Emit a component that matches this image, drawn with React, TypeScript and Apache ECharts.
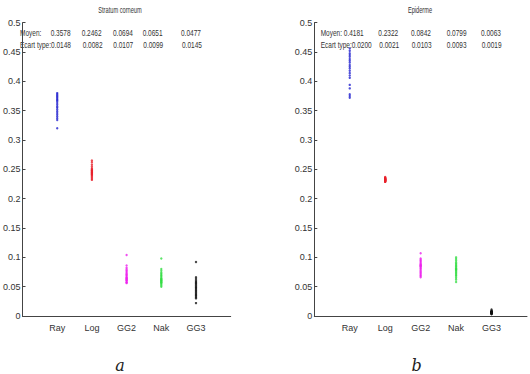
import React, { useEffect, useRef } from "react";
import * as echarts from "echarts";

// Distribution names along the x axis (positions 1..5)
const categories = ["Ray", "Log", "GG2", "Nak", "GG3"];
const yTicks = { min: 0, max: 0.5, interval: 0.05 };

// Panel a: Stratum corneum — estimated parameter per image
const scRay = [0.38, 0.378, 0.376, 0.374, 0.372, 0.37, 0.368, 0.366, 0.363, 0.36, 0.357, 0.355, 0.352, 0.349, 0.346, 0.343, 0.34, 0.337, 0.334, 0.32];
const scLog = [0.265, 0.262, 0.258, 0.255, 0.252, 0.25, 0.249, 0.248, 0.247, 0.246, 0.245, 0.244, 0.243, 0.242, 0.241, 0.24, 0.238, 0.236, 0.234, 0.232];
const scGG2 = [0.104, 0.086, 0.082, 0.079, 0.077, 0.075, 0.073, 0.071, 0.07, 0.068, 0.066, 0.065, 0.064, 0.063, 0.062, 0.061, 0.06, 0.058, 0.057, 0.056];
const scNak = [0.098, 0.08, 0.077, 0.074, 0.072, 0.07, 0.068, 0.066, 0.064, 0.063, 0.062, 0.061, 0.06, 0.059, 0.058, 0.057, 0.056, 0.054, 0.052, 0.05];
const scGG3 = [0.092, 0.066, 0.063, 0.06, 0.058, 0.056, 0.054, 0.052, 0.05, 0.048, 0.046, 0.044, 0.042, 0.04, 0.038, 0.036, 0.034, 0.032, 0.03, 0.022];
const scMean = ["0.3578", "0.2462", "0.0694", "0.0651", "0.0477"];
const scStd = ["0.0148", "0.0082", "0.0107", "0.0099", "0.0145"];

// Panel b: Epiderme
const epRay = [0.456, 0.452, 0.448, 0.445, 0.442, 0.438, 0.435, 0.432, 0.428, 0.425, 0.422, 0.418, 0.414, 0.41, 0.406, 0.394, 0.388, 0.378, 0.375, 0.372];
const epLog = [0.237, 0.236, 0.235, 0.235, 0.234, 0.234, 0.233, 0.233, 0.233, 0.232, 0.232, 0.232, 0.231, 0.231, 0.231, 0.23, 0.23, 0.229, 0.229, 0.229];
const epGG2 = [0.107, 0.098, 0.096, 0.094, 0.092, 0.09, 0.088, 0.087, 0.086, 0.085, 0.084, 0.082, 0.08, 0.078, 0.076, 0.074, 0.072, 0.07, 0.068, 0.066];
const epNak = [0.1, 0.097, 0.094, 0.091, 0.089, 0.087, 0.085, 0.083, 0.081, 0.08, 0.079, 0.078, 0.076, 0.074, 0.072, 0.07, 0.068, 0.065, 0.062, 0.058];
const epGG3 = [0.011, 0.009, 0.008, 0.008, 0.007, 0.007, 0.007, 0.006, 0.006, 0.006, 0.006, 0.006, 0.005, 0.005, 0.005, 0.005, 0.004, 0.004, 0.004, 0.003];
const epMean = ["0.4181", "0.2322", "0.0842", "0.0799", "0.0063"];
const epStd = ["0.0200", "0.0021", "0.0103", "0.0093", "0.0019"];

const colors = ["#2424d0", "#e8202a", "#ee22ee", "#33dd44", "#111111"];
const FONT = "'Liberation Sans', Arial, sans-serif";
const AXIS = "#444";
const TEXT = "#333";

const panels = [
  { title: "Stratum corneum", tag: "a", series: [scRay, scLog, scGG2, scNak, scGG3], mean: scMean, std: scStd },
  { title: "Epiderme", tag: "b", series: [epRay, epLog, epGG2, epNak, epGG3], mean: epMean, std: epStd },
];

const grids = [
  { left: 16, top: 22.7, width: 214.7, height: 293.3 },
  { left: 314.3, top: 22.7, width: 214.2, height: 293.3 },
];

// Left edges of the mean / std columns in each panel
const statCols = [
  { label: 20, title: 120, values: [50.7, 81.7, 113, 142.7, 181], stdValues: [82.7, 113.3, 143.3, 182] },
  { label: 320.7, title: 420, values: [343.8, 378.3, 411, 446.7, 481], stdValues: [379.3, 411.7, 446.7, 481.7] },
];

// Condensed look of the annotation text
const TEXT_SCALE = 0.685;

function statText(text: string, x: number, y: number) {
  return {
    type: "text",
    x,
    y,
    scaleX: TEXT_SCALE,
    style: { text, fill: TEXT, font: `9.5px ${FONT}`, textVerticalAlign: "middle" },
  };
}

export default function App() {
  const ref = useRef<HTMLDivElement>(null);

  useEffect(() => {
    if (!ref.current) return;
    const chart = echarts.init(ref.current, undefined, { renderer: "svg" });

    const xAxis = grids.map((_, i) => ({
      type: "value",
      gridIndex: i,
      min: 0,
      max: 6,
      interval: 1,
      axisLine: { onZero: false, lineStyle: { color: AXIS, width: 1 } },
      axisTick: { show: false },
      splitLine: { show: false },
      axisLabel: {
        color: TEXT,
        fontFamily: FONT,
        fontSize: 9,
        margin: 7,
        formatter: (v: number) => categories[v - 1] ?? "",
      },
    }));

    const yAxis = grids.map((_, i) => ({
      type: "value",
      gridIndex: i,
      min: yTicks.min,
      max: yTicks.max,
      interval: yTicks.interval,
      axisLine: { show: true, lineStyle: { color: AXIS, width: 1 } },
      axisTick: { show: true, inside: true, length: 3, lineStyle: { color: AXIS } },
      splitLine: { show: false },
      axisLabel: { color: TEXT, fontFamily: FONT, fontSize: 9, margin: 2 },
    }));

    const series: any[] = [];
    panels.forEach((p, pi) => {
      p.series.forEach((vals, ci) => {
        series.push({
          type: "scatter",
          xAxisIndex: pi,
          yAxisIndex: pi,
          symbol: "circle",
          symbolSize: 2.4,
          itemStyle: { color: colors[ci] },
          data: vals.map((v) => [ci + 1, v]),
        });
      });
    });

    const graphic: any[] = [];
    panels.forEach((p, pi) => {
      const cols = statCols[pi];
      graphic.push({
        type: "text",
        x: cols.title,
        y: 10,
        scaleX: 0.63,
        style: { text: p.title, fill: TEXT, font: `9px ${FONT}`, textAlign: "center", textVerticalAlign: "middle" },
      });
      graphic.push(statText("Moyen:", cols.label, 32.7));
      graphic.push(statText("Ecart type:" + p.std[0], cols.label, 45.3));
      p.mean.forEach((m, k) => graphic.push(statText(m, cols.values[k], 32.7)));
      p.std.slice(1).forEach((s, k) => graphic.push(statText(s, cols.stdValues[k], 45.3)));
      graphic.push({
        type: "text",
        x: pi === 0 ? 120 : 416.7,
        y: 365,
        style: {
          text: p.tag,
          fill: "#222",
          font: "italic 16px 'DejaVu Serif', 'Liberation Serif', serif",
          textAlign: "center",
          textVerticalAlign: "middle",
        },
      });
    });

    chart.setOption({
      animation: false,
      backgroundColor: "#ffffff",
      grid: grids.map((g) => ({ ...g, containLabel: false })),
      xAxis,
      yAxis,
      series,
      graphic,
    });

    return () => chart.dispose();
  }, []);

  return <div ref={ref} style={{ position: "absolute", left: 0, top: 0, width: 530, height: 374 }} />;
}
